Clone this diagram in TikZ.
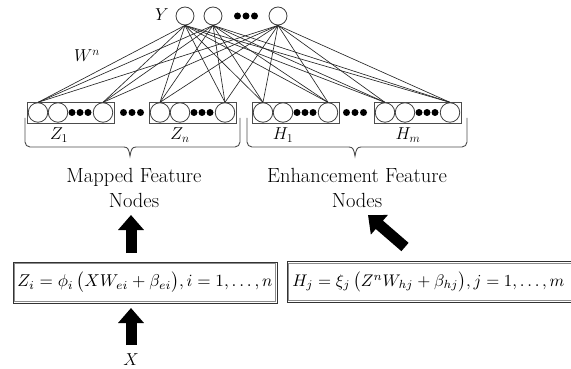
\documentclass[tikz,border=0pt]{standalone}
\usepackage{graphicx}
\usetikzlibrary{arrows.meta,calc}
\begin{document}
\begin{tikzpicture}[x=1pt,y=-1pt,
  neuron/.style={circle, draw=black!75, line width=0.8pt, minimum size=19.5pt, inner sep=0pt, fill=white},
  outn/.style={circle, draw=black!75, line width=0.8pt, minimum size=18pt, inner sep=0pt, fill=white},
  grp/.style={draw=black!70, line width=0.9pt, minimum width=87pt, minimum height=21pt, inner sep=0pt, fill=white},
  dotc/.style={circle, fill=black, minimum size=7pt, inner sep=0pt},
  conn/.style={draw=black!85, line width=0.65pt},
  brc/.style={draw=black!70, line width=0.9pt},
  bigarrow/.style={line width=11pt, -{Triangle[width=25pt,length=15pt]}},
  fbox/.style={draw=black!80, line width=0.9pt, minimum height=41pt, inner sep=0pt},
  finner/.style={draw=black!45, line width=0.8pt},
  lbl/.style={font=\fontsize{20.5}{25}\selectfont, align=center, inner sep=0pt},
  sym/.style={font=\fontsize{18}{20}\selectfont, inner sep=0pt},
]
\useasboundingbox (0,0) rectangle (571,369);
% output layer
\node[outn] (y1) at (185,16) {};
\node[outn] (y2) at (213,16) {};
\node[outn] (y3) at (278,16) {};
\node[dotc] (yd1) at (237.5,16) {};
\node[dotc] (yd2) at (246,16) {};
\node[dotc] (yd3) at (254.5,16) {};
\node[sym] (ylab) at (162,15) {$Y$};
\node[sym] (wlab) at (87,56) {$W^{n}$};
% hidden groups
\foreach \g/\L in {z1/27, zn/149, h1/252, hm/374}{
  \node[grp] (\g box) at (\L+43.5,112.5) {};
  \node[neuron] (\g a) at (\L+11,112.5) {};
  \node[neuron] (\g b) at (\L+31,112.5) {};
  \node[neuron] (\g c) at (\L+76,112.5) {};
  \node[dotc] (\g d1) at (\L+45,112.5) {};
  \node[dotc] (\g d2) at (\L+53,112.5) {};
  \node[dotc] (\g d3) at (\L+61,112.5) {};
}
\foreach \x/\n in {123.5/za,132/zb,140.5/zc,346.5/ha,355/hb,363.5/hc}{
  \node[dotc] (\n) at (\x,112.5) {};
}
% connections
\foreach \y in {y1,y2,y3}{
  \foreach \h in {z1a,z1c,zna,znc,h1a,h1c,hma,hmc}{
    \draw[conn] (\y.south) -- (\h.north);
  }
}
% braces
\draw[brc, rounded corners=5pt] (25,118) -- (25,147) -- (124,147);
\draw[brc] (124,147) .. controls (128,147) and (129,150) .. (130,156) .. controls (131,150) and (132,147) .. (136,147);
\draw[brc, rounded corners=5pt] (136,147) -- (240,147) -- (240,118);
\draw[brc, rounded corners=5pt] (247,118) -- (247,147) -- (349,147);
\draw[brc] (349,147) .. controls (353,147) and (354,150) .. (355,156) .. controls (356,150) and (357,147) .. (361,147);
\draw[brc, rounded corners=5pt] (361,147) -- (467,147) -- (467,118);
\node[sym] (lz1) at (59,135) {$Z_{1}$};
\node[sym] (lzn) at (180,135) {$Z_{n}$};
\node[sym] (lh1) at (283,135) {$H_{1}$};
\node[sym] (lhm) at (408,135) {$H_{m}$};
% labels
\node[lbl] (mapped) at (134,188) {Mapped Feature\\Nodes};
\node[lbl] (enh) at (357,188) {Enhancement Feature\\Nodes};
% formula boxes
\node[fbox, minimum width=264pt] (f1) at (145,282.5) {\resizebox{255pt}{!}{$Z_i=\phi_{i}\,\bigl(XW_{ei}+\beta_{ei}\bigr), i=1,\ldots,n$}};
\node[fbox, minimum width=294pt] (f2) at (434,282) {};
\node[inner sep=0pt] (f2t) at (428.5,282) {\resizebox{272pt}{!}{$H_j=\xi_{j}\,\bigl(Z^{n}W_{hj}+\beta_{hj}\bigr), j=1,\ldots,m$}};
\draw[finner] ([shift={(2.2pt,-2.2pt)}]f1.north west) rectangle ([shift={(-2.2pt,2.2pt)}]f1.south east);
\draw[finner] ([shift={(2.2pt,-2.2pt)}]f2.north west) rectangle ([shift={(-2.2pt,2.2pt)}]f2.south east);
% input
\node[sym, font=\fontsize{16}{18}\selectfont] (xin) at (131,360) {$X$};
% arrows
\coordinate (a1s) at (131,253);
\coordinate (a1e) at (131,215);
\coordinate (a2s) at (405,247);
\coordinate (a2e) at (368,215);
\coordinate (a3s) at (131,345);
\coordinate (a3e) at (131,308);
\draw[bigarrow] (a1s) -- (a1e);
\draw[bigarrow] (a2s) -- (a2e);
\draw[bigarrow] (a3s) -- (a3e);
\end{tikzpicture}
\end{document}
